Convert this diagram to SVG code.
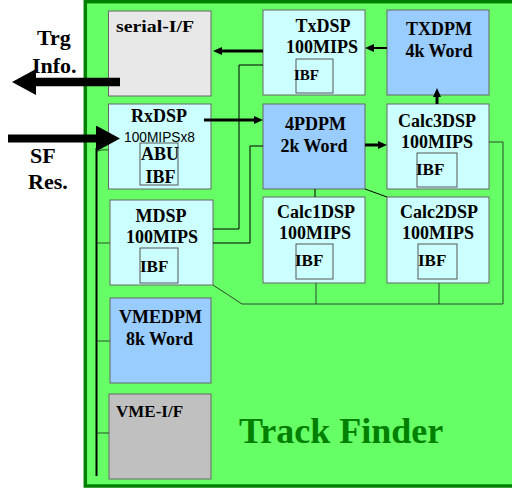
<svg xmlns="http://www.w3.org/2000/svg" width="512" height="490" viewBox="0 0 512 490">
<style>
.t{font-family:"Liberation Serif","Times New Roman",serif;font-weight:bold;font-size:18px;fill:#000}
.m{text-anchor:middle}
.box{stroke:#666;stroke-width:1}
.dsp{fill:#CCFFFF}
.dpm{fill:#99CCFF}
.ibf{fill:none;stroke:#555;stroke-width:1}
.w{fill:none;stroke:#000;stroke-width:1}
.g{fill:none;stroke:#2a4a2a;stroke-width:1}
</style>
<defs>
<marker id="a" viewBox="0 0 9 8" refX="1" refY="4" markerWidth="9" markerHeight="8" markerUnits="userSpaceOnUse" orient="auto"><path d="M0,0 L9,4 L0,8 z" fill="#000"/></marker>
<marker id="b" viewBox="0 0 24 26" refX="1" refY="13" markerWidth="24" markerHeight="26" markerUnits="userSpaceOnUse" orient="auto"><path d="M0,0 L24,13 L0,26 z" fill="#000"/></marker>
</defs>
<rect width="512" height="490" fill="#fff"/>
<g id="trackfinder">
<rect x="85.3" y="1.7" width="440" height="484.3" fill="#66FF66" stroke="#008000" stroke-width="3.5"/>
<text class="t" x="239" y="443" style="font-size:36px;fill:#008000">Track Finder</text>
</g>
<g id="serial-if"><rect class="box" x="108.5" y="11" width="102.5" height="85" fill="#E8E8E8"/><text class="t" x="116" y="32" style="font-size:17px" textLength="78" lengthAdjust="spacingAndGlyphs">serial-I/F</text></g>
<g id="txdsp"><rect class="box dsp" x="263" y="10" width="102" height="85"/><text class="t m" x="323" y="32">TxDSP</text><text class="t m" x="322" y="53">100MIPS</text><rect class="ibf" x="296" y="59" width="37" height="34"/><text class="t" x="294" y="80" style="font-size:15px">IBF</text></g>
<g id="txdpm"><rect class="box dpm" x="387" y="10" width="102" height="85"/><text class="t m" x="439" y="35">TXDPM</text><text class="t m" x="439" y="57">4k Word</text></g>
<g id="rxdsp"><rect class="box dsp" x="108.5" y="104" width="102.5" height="85"/><text class="t m" x="159" y="122">RxDSP</text><text x="159.5" y="142" text-anchor="middle" style="font-family:'Liberation Sans',Arial,sans-serif;font-size:14px" textLength="71" lengthAdjust="spacingAndGlyphs">100MIPSx8</text><rect class="ibf" x="140" y="143" width="38" height="42"/><text class="t m" x="160" y="160">ABU</text><text class="t m" x="160.5" y="183">IBF</text></g>
<g id="4pdpm"><rect class="box dpm" x="263" y="104" width="102" height="85"/><text class="t m" x="315.5" y="130">4PDPM</text><text class="t m" x="314" y="152">2k Word</text></g>
<g id="calc3dsp"><rect class="box dsp" x="387" y="104" width="102" height="85"/><text class="t m" x="437" y="127">Calc3DSP</text><text class="t m" x="437" y="148">100MIPS</text><rect class="ibf" x="417" y="153" width="40" height="34"/><text class="t" x="416" y="175" style="font-size:17px">IBF</text></g>
<g id="mdsp"><rect class="box dsp" x="110" y="200" width="103" height="85"/><text class="t m" x="161" y="222">MDSP</text><text class="t m" x="162" y="243">100MIPS</text><rect class="ibf" x="140" y="248" width="38" height="35"/><text class="t" x="140" y="272" style="font-size:17px">IBF</text></g>
<g id="calc1dsp"><rect class="box dsp" x="263" y="197" width="102" height="86"/><text class="t m" x="316" y="218">Calc1DSP</text><text class="t m" x="315" y="239">100MIPS</text><rect class="ibf" x="296" y="244" width="37" height="35"/><text class="t" x="295" y="266" style="font-size:17px">IBF</text></g>
<g id="calc2dsp"><rect class="box dsp" x="387" y="197" width="102" height="86"/><text class="t m" x="439" y="218">Calc2DSP</text><text class="t m" x="438" y="239">100MIPS</text><rect class="ibf" x="418" y="244" width="39" height="35"/><text class="t" x="418" y="266" style="font-size:17px">IBF</text></g>
<g id="vmedpm"><rect class="box dpm" x="110" y="298" width="101" height="85"/><text class="t m" x="160.5" y="323">VMEDPM</text><text class="t m" x="159.5" y="345">8k Word</text></g>
<g id="vme-if"><rect class="box" x="109" y="394" width="102" height="85" fill="#C0C0C0"/><text class="t" x="116" y="417" style="font-size:17px">VME-I/F</text></g>
<g id="labels">
<text class="t" x="37" y="45" style="font-size:22px">Trg</text>
<text class="t" x="32" y="73" style="font-size:22px">Info.</text>
<text class="t" x="30" y="163" style="font-size:22px">SF</text>
<text class="t" x="28" y="189" style="font-size:22px">Res.</text>
</g>
<g id="connectors">
<line x1="120" y1="82" x2="35" y2="82" stroke="#000" stroke-width="8.5" marker-end="url(#b)"/>
<line x1="8" y1="138.5" x2="97" y2="138.5" stroke="#000" stroke-width="8" marker-end="url(#b)"/>
<line x1="387" y1="48" x2="373" y2="48" stroke="#000" stroke-width="2" marker-end="url(#a)"/>
<line x1="263" y1="51" x2="221" y2="51" stroke="#000" stroke-width="3" marker-end="url(#a)"/>
<line x1="437" y1="104" x2="437" y2="96" stroke="#000" stroke-width="3" marker-end="url(#a)"/>
<line x1="204" y1="120" x2="255" y2="120" stroke="#000" stroke-width="3" marker-end="url(#a)"/>
<line x1="365" y1="145" x2="379" y2="145" stroke="#000" stroke-width="3" marker-end="url(#a)"/>
<line x1="96.5" y1="148" x2="96.5" y2="476" stroke="#000" stroke-width="2"/>
<path class="g" d="M97,152 Q100,149 108.5,150"/>
<path class="g" d="M97,243 H110 M97,341 H110 M97,433 H109"/>
<path class="w" d="M213,229 H239 V65 H263"/>
<path class="w" d="M213,243 H250 V146 H263" stroke-width="2"/>
<path class="w" d="M315,189 V197"/>
<path class="w" d="M365,189 L387,197" stroke-width="1.5"/>
<path class="g" d="M489,142 H503 V304 H242 L213,285 M316,283 V304 M439,283 V304"/>
</g>
</svg>
